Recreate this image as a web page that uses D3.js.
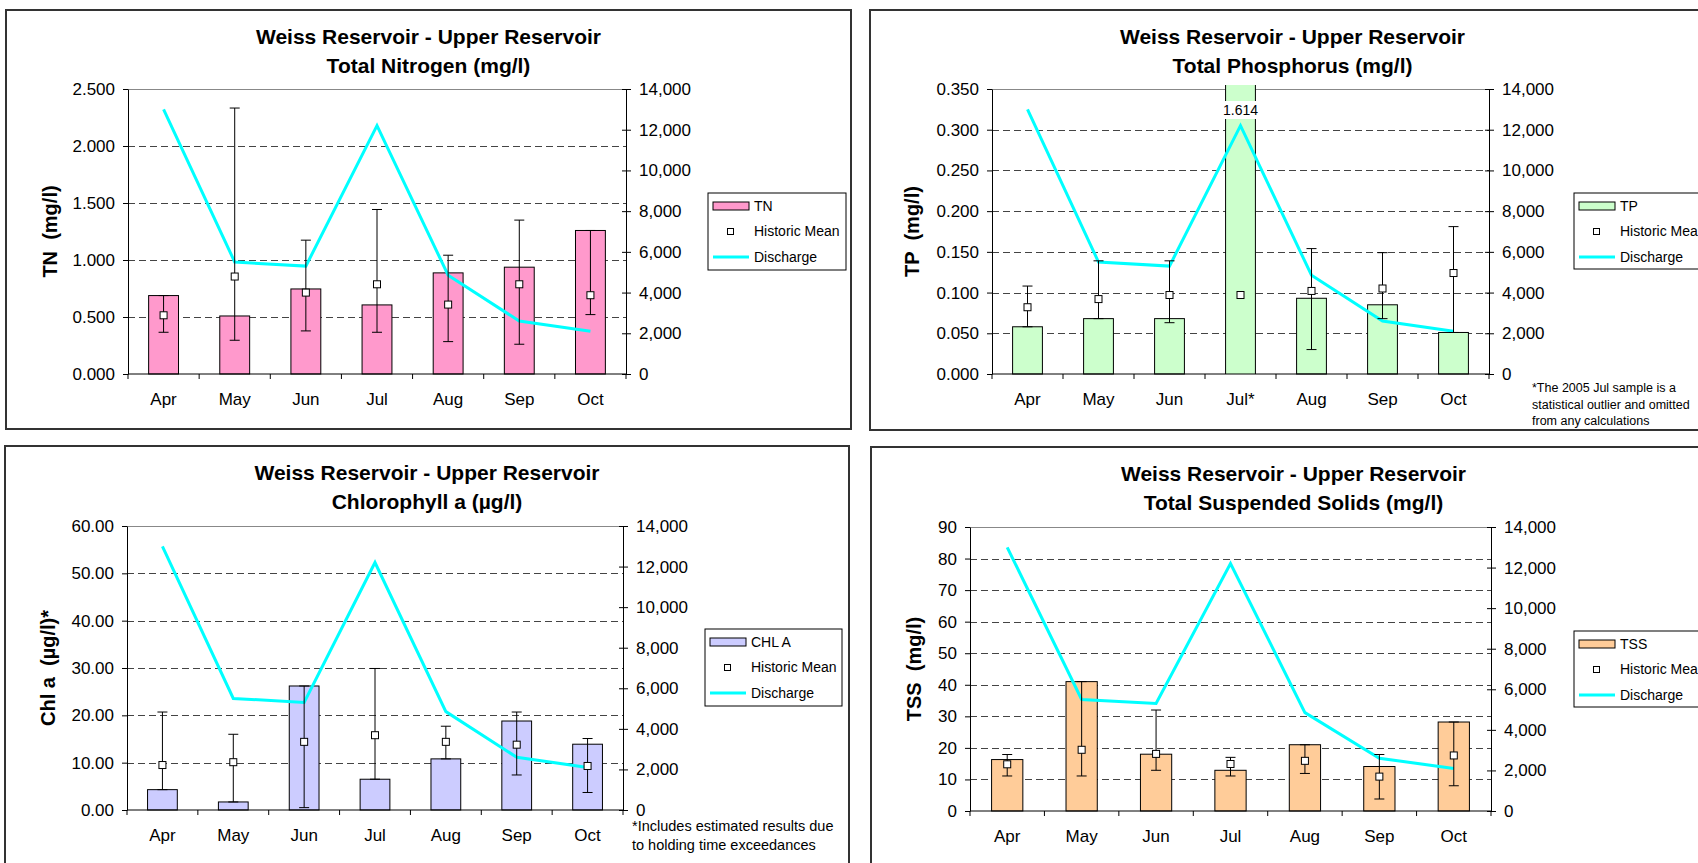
<!DOCTYPE html>
<html>
<head>
<meta charset="utf-8">
<script src="https://cdn.jsdelivr.net/npm/d3@7"></script>
<style>
body { margin: 0; background: #fff; overflow: hidden; }
svg { display: block; font-family: "Liberation Sans", Arial, sans-serif; }
</style>
</head>
<body>
<svg id="svg"></svg>
<script>
var width = 1698, height = 863;

// shared data
var months = ["Apr", "May", "Jun", "Jul", "Aug", "Sep", "Oct"];
var discharge = [13000, 5500, 5300, 12200, 4850, 2600, 2100];
var dischargeTicks = [0, 2000, 4000, 6000, 8000, 10000, 12000, 14000];
var titleLine1 = "Weiss Reservoir - Upper Reservoir";

// Total Nitrogen
var tnValues = [0.688, 0.509, 0.746, 0.606, 0.887, 0.937, 1.259];
var tnMean = [0.515, 0.855, 0.714, 0.787, 0.609, 0.787, 0.691];
var tnLow = [0.366, 0.296, 0.378, 0.366, 0.284, 0.261, 0.521];
var tnHigh = [0.688, 2.333, 1.174, 1.443, 1.042, 1.350, 1.259];
var tnTicks = [0, 0.5, 1, 1.5, 2, 2.5];

// Total Phosphorus (Jul value is an outlier, drawn clipped)
var tpValues = [0.058, 0.068, 0.068, 1.614, 0.093, 0.085, 0.051];
var tpMean = [0.082, 0.092, 0.097, 0.097, 0.102, 0.105, 0.124];
var tpLow = [0.058, 0.068, 0.063, null, 0.030, 0.068, 0.051];
var tpHigh = [0.108, 0.139, 0.139, null, 0.154, 0.149, 0.181];
var tpTicks = [0, 0.05, 0.1, 0.15, 0.2, 0.25, 0.3, 0.35];
var tpLabels = ["Apr", "May", "Jun", "Jul*", "Aug", "Sep", "Oct"];

// Chlorophyll a
var chlValues = [4.3, 1.7, 26.2, 6.5, 10.8, 18.8, 13.9];
var chlMean = [9.5, 10.1, 14.4, 15.8, 14.4, 13.8, 9.3];
var chlLow = [4.3, 1.7, 0.5, 6.5, 10.8, 7.4, 3.7];
var chlHigh = [20.7, 16.0, 26.2, 29.9, 17.7, 20.7, 15.1];
var chlTicks = [0, 10, 20, 30, 40, 50, 60];

// Total Suspended Solids
var tssValues = [16.3, 41.0, 18.0, 12.9, 21.0, 14.1, 28.2];
var tssMean = [14.8, 19.4, 18.1, 14.9, 15.9, 10.9, 17.6];
var tssLow = [11.1, 11.1, 12.9, 11.1, 11.9, 3.8, 8.0];
var tssHigh = [17.9, 41.0, 32.0, 17.0, 21.0, 17.9, 28.2];
var tssTicks = [0, 10, 20, 30, 40, 50, 60, 70, 80, 90];

var svg = d3.select("#svg")
	.attr("width", width)
	.attr("height", height);

var panels = [
	{ box: [6, 10, 845, 419], l: 128, r: 626, t: 89, b: 374,
	  title: "Total Nitrogen (mg/l)", yTitle: "TN  (mg/l)", yTitleX: 50,
	  values: tnValues, mean: tnMean, low: tnLow, high: tnHigh, ticks: tnTicks, fmt: d3.format(".3f"),
	  labels: months, color: "#FF99CC", name: "TN", legend: [708, 193, 138, 77] },
	{ box: [870, 10, 845, 420], l: 992, r: 1489, t: 89, b: 374,
	  title: "Total Phosphorus (mg/l)", yTitle: "TP  (mg/l)", yTitleX: 912,
	  values: tpValues, mean: tpMean, low: tpLow, high: tpHigh, ticks: tpTicks, fmt: d3.format(".3f"),
	  labels: tpLabels, color: "#CCFFCC", name: "TP", legend: [1574, 193, 160, 76],
	  note: ["*The 2005 Jul sample is a", "statistical outlier and omitted", "from any calculations"],
	  noteX: 1532, noteY: 392, noteSize: 12.5, noteStep: 16.5 },
	{ box: [5, 446, 844, 440], l: 127, r: 623, t: 526, b: 810,
	  title: "Chlorophyll a (\u00b5g/l)", yTitle: "Chl a  (\u00b5g/l)*", yTitleX: 48,
	  values: chlValues, mean: chlMean, low: chlLow, high: chlHigh, ticks: chlTicks, fmt: d3.format(".2f"),
	  labels: months, color: "#CCCCFF", name: "CHL A", legend: [705, 629, 137, 77],
	  note: ["*Includes estimated results due", "to holding time exceedances"],
	  noteX: 632, noteY: 831, noteSize: 14.5, noteStep: 18.5 },
	{ box: [871, 447, 845, 440], l: 970, r: 1491, t: 527, b: 811,
	  title: "Total Suspended Solids (mg/l)", yTitle: "TSS  (mg/l)", yTitleX: 914,
	  values: tssValues, mean: tssMean, low: tssLow, high: tssHigh, ticks: tssTicks, fmt: d3.format("d"),
	  labels: months, color: "#FFCC99", name: "TSS", legend: [1574, 631, 160, 76] }
];

panels.forEach(drawPanel);

function drawPanel(p)
{
	var g = svg.append("g");

	g.append("rect")
		.attr("x", p.box[0]).attr("y", p.box[1])
		.attr("width", p.box[2]).attr("height", p.box[3])
		.attr("fill", "#fff").attr("stroke", "#333").attr("stroke-width", 2);

	var cx = p.box[0] + p.box[2] / 2;
	g.append("text").attr("x", cx).attr("y", p.box[1] + 34)
		.attr("text-anchor", "middle").attr("font-size", "21px").attr("font-weight", "bold")
		.text(titleLine1);
	g.append("text").attr("x", cx).attr("y", p.box[1] + 63)
		.attr("text-anchor", "middle").attr("font-size", "21px").attr("font-weight", "bold")
		.text(p.title);

	var yMax = p.ticks[p.ticks.length - 1];
	var x = d3.scaleBand().domain(months).range([p.l, p.r]);
	var y = d3.scaleLinear().domain([0, yMax]).range([p.b, p.t]);
	var yR = d3.scaleLinear().domain([0, 14000]).range([p.b, p.t]);
	var band = x.bandwidth();
	var bw = band * 0.42;
	var mid = function(i) { return x(months[i]) + band / 2; };
	var barTop = function(v) { return Math.max(y(v), y(yMax) - 4); };

	// gridlines
	g.selectAll(".grid")
		.data(p.ticks.filter(function(v) { return v > 0 && v < yMax; }))
		.enter().append("line")
		.attr("x1", p.l).attr("x2", p.r)
		.attr("y1", function(d) { return Math.round(y(d)) + 0.5; })
		.attr("y2", function(d) { return Math.round(y(d)) + 0.5; })
		.attr("stroke", "#444").attr("stroke-dasharray", "7,4");
	g.append("line")
		.attr("x1", p.l).attr("x2", p.r)
		.attr("y1", y(yMax) + 0.5).attr("y2", y(yMax) + 0.5)
		.attr("stroke", "#888");

	// bars (clipped bars are drawn open at the top)
	p.values.forEach(function(v, i) {
		var x0 = mid(i) - bw / 2, top = barTop(v);
		g.append("rect")
			.attr("x", x0).attr("y", top)
			.attr("width", bw).attr("height", y(0) - top)
			.attr("fill", p.color)
			.attr("stroke", v > yMax ? "none" : "#000").attr("stroke-width", 1);
		if (v > yMax) {
			g.append("path")
				.attr("d", "M" + x0 + "," + top + "V" + y(0) + "M" + (x0 + bw) + "," + top + "V" + y(0))
				.attr("stroke", "#000").attr("fill", "none");
		}
	});

	// value label for clipped bars
	p.values.forEach(function(v, i) {
		if (v > yMax) {
			var lbl = g.append("text")
				.attr("x", mid(i)).attr("y", y(yMax) + 26)
				.attr("text-anchor", "middle").attr("font-size", "14px")
				.text(d3.format(".3f")(v));
			var bb = lbl.node().getBBox();
			g.insert("rect", function() { return lbl.node(); })
				.attr("x", bb.x - 2).attr("y", bb.y - 1)
				.attr("width", bb.width + 4).attr("height", bb.height + 2)
				.attr("fill", "#fff");
		}
	});

	// discharge line
	var line = d3.line()
		.x(function(d, i) { return mid(i); })
		.y(function(d) { return yR(d); });
	g.append("path")
		.datum(discharge)
		.attr("d", line)
		.attr("fill", "none").attr("stroke", "#00FFFF").attr("stroke-width", 3);

	// error bars around historic mean
	p.mean.forEach(function(m, i) {
		if (p.low[i] == null) return;
		var c = mid(i);
		g.append("line").attr("x1", c).attr("x2", c)
			.attr("y1", y(p.high[i])).attr("y2", y(p.low[i]))
			.attr("stroke", "#000");
		[p.high[i], p.low[i]].forEach(function(v) {
			g.append("line").attr("x1", c - 5).attr("x2", c + 5)
				.attr("y1", y(v)).attr("y2", y(v))
				.attr("stroke", "#000");
		});
	});

	// historic mean markers
	g.selectAll(".mean")
		.data(p.mean)
		.enter().append("rect")
		.attr("x", function(d, i) { return mid(i) - 3.5; })
		.attr("y", function(d) { return y(d) - 3.5; })
		.attr("width", 7).attr("height", 7)
		.attr("fill", "#fff").attr("stroke", "#000").attr("stroke-width", 1);

	// left axis
	var left = g.append("g")
		.attr("transform", "translate(" + p.l + ",0)")
		.call(d3.axisLeft(y).tickValues(p.ticks).tickFormat(p.fmt).tickSize(5).tickSizeOuter(0).tickPadding(8));
	left.selectAll("text").attr("font-size", "17px").attr("font-family", "inherit").attr("fill", "#000");
	left.selectAll("line,path").attr("stroke", "#000");

	// right axis
	var right = g.append("g")
		.attr("transform", "translate(" + p.r + ",0)")
		.call(d3.axisRight(yR).tickValues(dischargeTicks).tickFormat(d3.format(",")).tickSize(5).tickSizeOuter(0).tickPadding(8));
	right.selectAll(".tick line").attr("x1", -4);
	right.selectAll("text").attr("font-size", "17px").attr("font-family", "inherit").attr("fill", "#000");
	right.selectAll("line,path").attr("stroke", "#000");

	// x axis
	g.append("line").attr("x1", p.l).attr("x2", p.r)
		.attr("y1", y(0)).attr("y2", y(0)).attr("stroke", "#000");
	g.selectAll(".xtick")
		.data(d3.range(months.length + 1))
		.enter().append("line")
		.attr("x1", function(i) { return p.l + i * band; })
		.attr("x2", function(i) { return p.l + i * band; })
		.attr("y1", y(0)).attr("y2", y(0) + 5)
		.attr("stroke", "#000");
	g.selectAll(".xlabel")
		.data(p.labels)
		.enter().append("text")
		.attr("x", function(d, i) { return mid(i); })
		.attr("y", y(0) + 31)
		.attr("text-anchor", "middle").attr("font-size", "17px")
		.text(function(d) { return d; });

	// y axis title
	g.append("text")
		.attr("transform", "translate(" + p.yTitleX + "," + ((p.t + p.b) / 2) + ") rotate(-90)")
		.attr("dy", "0.35em")
		.attr("text-anchor", "middle").attr("font-size", "20px").attr("font-weight", "bold")
		.style("white-space", "pre")
		.text(p.yTitle);

	// legend
	var lg = p.legend;
	g.append("rect").attr("x", lg[0]).attr("y", lg[1]).attr("width", lg[2]).attr("height", lg[3])
		.attr("fill", "#fff").attr("stroke", "#000").attr("stroke-width", 1);
	g.append("rect").attr("x", lg[0] + 5).attr("y", lg[1] + 9).attr("width", 36).attr("height", 8)
		.attr("fill", p.color).attr("stroke", "#000").attr("stroke-width", 1);
	g.append("rect").attr("x", lg[0] + 19.5).attr("y", lg[1] + 35.5).attr("width", 6).attr("height", 6)
		.attr("fill", "#fff").attr("stroke", "#000").attr("stroke-width", 1);
	g.append("line").attr("x1", lg[0] + 5).attr("x2", lg[0] + 41)
		.attr("y1", lg[1] + 64).attr("y2", lg[1] + 64)
		.attr("stroke", "#00FFFF").attr("stroke-width", 3);
	[p.name, "Historic Mean", "Discharge"].forEach(function(t, i) {
		g.append("text").attr("x", lg[0] + 46).attr("y", lg[1] + 13 + i * 25.5)
			.attr("dy", "0.35em").attr("font-size", "14px")
			.text(t);
	});

	// footnote
	if (p.note) {
		p.note.forEach(function(t, i) {
			g.append("text").attr("x", p.noteX).attr("y", p.noteY + i * p.noteStep)
				.attr("font-size", p.noteSize + "px")
				.text(t);
		});
	}
}
</script>
</body>
</html>
